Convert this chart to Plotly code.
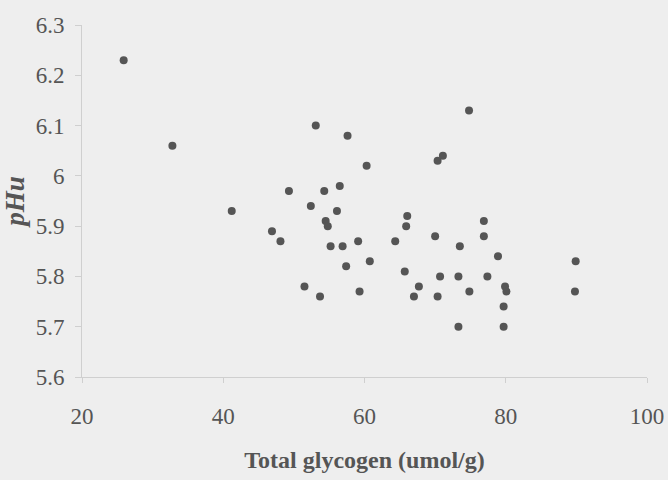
import plotly.graph_objects as go

glycogen = [25.9, 32.8, 41.2, 46.9, 48.1, 49.3, 51.5, 52.4, 53.1, 53.7,
            54.3, 54.5, 54.8, 55.2, 56.1, 56.5, 56.9, 57.4, 57.6, 59.1,
            59.3, 60.3, 60.75, 64.35, 65.7, 65.9, 66.05, 67.0, 67.7, 70.0,
            70.35, 70.35, 70.7, 71.1, 73.3, 73.3, 73.5, 74.8, 74.85, 76.9,
            76.9, 77.4, 78.9, 79.7, 79.7, 79.9, 80.1, 89.8, 89.9]
phu = [6.23, 6.06, 5.93, 5.89, 5.87, 5.97, 5.78, 5.94, 6.10, 5.76,
       5.97, 5.91, 5.90, 5.86, 5.93, 5.98, 5.86, 5.82, 6.08, 5.87,
       5.77, 6.02, 5.83, 5.87, 5.81, 5.90, 5.92, 5.76, 5.78, 5.88,
       5.76, 6.03, 5.80, 6.04, 5.80, 5.70, 5.86, 6.13, 5.77, 5.91,
       5.88, 5.80, 5.84, 5.74, 5.70, 5.78, 5.77, 5.77, 5.83]

x_ticks = [20, 40, 60, 80, 100]
y_ticks = [5.6, 5.7, 5.8, 5.9, 6.0, 6.1, 6.2, 6.3]
y_ticktext = ["5.6", "5.7", "5.8", "5.9", "6", "6.1", "6.2", "6.3"]

bg = "#eeeeee"
txt = "#555555"
axis_col = "#cfcfcf"
serif = "Liberation Serif"

fig = go.Figure(go.Scatter(
    x=glycogen, y=phu, mode="markers",
    marker=dict(size=8, color="#555555"),
    showlegend=False,
))

fig.update_layout(
    width=668, height=480,
    margin=dict(l=82, r=21, t=25, b=103),
    paper_bgcolor=bg, plot_bgcolor=bg,
    font=dict(family=serif, color=txt, size=23),
)
fig.update_xaxes(
    range=[20, 100], tickvals=x_ticks, showgrid=False, zeroline=False,
    showline=True, linecolor=axis_col, linewidth=1,
    ticks="outside", ticklen=5, tickcolor=axis_col,
    ticklabelstandoff=13, automargin=False,
    tickfont=dict(family=serif, size=23, color=txt),
    title=dict(text="<b>Total glycogen (umol/g)</b>", standoff=23,
               font=dict(family=serif, size=24, color=txt)),
)
fig.update_yaxes(
    range=[5.6, 6.3], tickvals=y_ticks, ticktext=y_ticktext,
    showgrid=False, zeroline=False,
    showline=True, linecolor=axis_col, linewidth=1,
    ticks="outside", ticklen=6, tickcolor=axis_col,
    ticklabelstandoff=6, automargin=False,
    tickfont=dict(family=serif, size=23, color=txt),
    title=dict(text="<b><i>pHu</i></b>", standoff=6,
               font=dict(family=serif, size=27, color=txt)),
)

fig.write_html(
    "out.html",
    config={"displayModeBar": False},
    post_script="document.body.style.margin='0';document.body.style.background='#eeeeee';",
)
